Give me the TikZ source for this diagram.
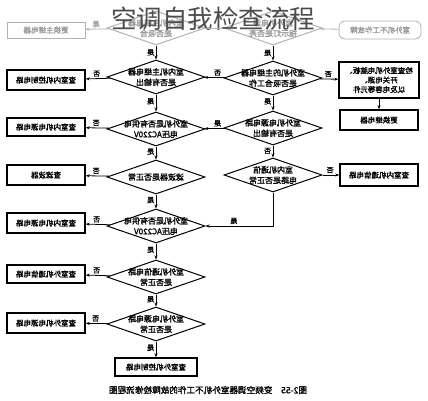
\documentclass[tikz,border=0pt]{standalone}
\usepackage{fontspec}
\usepackage{graphicx}
\usetikzlibrary{shapes.geometric,arrows.meta}
\newfontfamily\cjk{Noto Sans CJK SC}
\newfontfamily\cjkb[FakeBold=1.4]{Noto Sans CJK SC}
\newcommand{\rf}[1]{\reflectbox{#1}}

\tikzset{
  chk/.style={diamond, draw, line width=1pt, minimum width=98pt, minimum height=34pt,
    inner xsep=-16pt, inner ysep=-10pt, align=center, font=\cjkb\fontsize{8}{10.5}\selectfont},
  act/.style={rectangle, draw, line width=1.4pt, minimum width=78pt, minimum height=20pt,
    inner sep=1pt, align=center, font=\cjkb\fontsize{7.5}{9.5}\selectfont},
  faded/.style={draw=black!30, text=black!40},
  lbl/.style={font=\cjkb\fontsize{7}{8}\selectfont, inner sep=1.5pt},
  flow/.style={-{Stealth[length=4pt,width=3pt]}, line width=0.8pt}
}

\begin{document}
\begin{tikzpicture}[x=1pt, y=-1pt]
    \useasboundingbox[fill=white] (0,0) rectangle (428,400);
    % top row (faded)
    \node[act, faded, rounded corners=6pt, line width=0.8pt, minimum width=82pt, minimum height=18pt] (start) at (380,30) {\rf{室外机不工作故障}};
    \node[chk, faded] (d1) at (273,28) {\rf{室外机电源}\\\rf{指示灯是否亮}};
    \node[chk, faded] (d0) at (156,28) {\rf{室内机主继电器}\\\rf{是否吸合}};
    \node[act, faded, line width=1pt, minimum height=16pt] (b0) at (46,30) {\rf{更换主继电器}};
    % checks
    \node[chk] (d3) at (156,77) {\rf{室内机主继电器}\\\rf{是否有输出}};
    \node[chk] (d2) at (273,78) {\rf{室外机的主继电器}\\\rf{是否吸合工作}};
    \node[chk] (d4) at (273,128) {\rf{室外机电源电路}\\\rf{是否有输出}};
    \node[chk] (d5) at (156,129) {\rf{室外机是否有供电}\\\rf{电压AC220V}};
    \node[chk] (d6) at (273,175) {\rf{室内机通信}\\\rf{电路是否正常}};
    \node[chk] (d8) at (156,177) {\rf{滤波器是否正常}};
    \node[chk] (d7) at (156,226) {\rf{室外机是否有供电}\\\rf{电压AC220V}};
    \node[chk] (d9) at (156,277) {\rf{室外机通信电路}\\\rf{是否正常}};
    \node[chk] (d10) at (156,324) {\rf{室外机电源电路}\\\rf{是否正常}};
    % actions
    \node[act, minimum width=80pt, minimum height=36pt] (br1) at (379,80) {\rf{检查室外机电脑板、}\\\rf{开关电源、}\\\rf{以及电容等元件}};
    \node[act] (br2) at (379,120) {\rf{更换继电器}};
    \node[act, minimum height=22pt] (br3) at (379,175) {\rf{查室内机通信电路}};
    \node[act] (b1) at (46,80) {\rf{查室内机控制电路}};
    \node[act, minimum height=18pt] (b2) at (46,127) {\rf{查室内机电源电路}};
    \node[act] (b3) at (46,175) {\rf{查滤波器}};
    \node[act] (b4) at (46,223) {\rf{查室内机电源电路}};
    \node[act, minimum height=18pt] (b5) at (46,274) {\rf{查室外机通信电路}};
    \node[act] (b6) at (46,323) {\rf{查室外机电源电路}};
    \node[act, minimum width=82pt, minimum height=18pt] (bend) at (156,367) {\rf{查室外机控制电路}};
    % texts
    \node[font=\cjk\fontsize{25.5}{28}\selectfont, text=black!70, inner sep=0pt] (title) at (213,19) {空调自我检查流程};
    \node[font=\cjkb\fontsize{8.6}{10}\selectfont, inner sep=0pt] (caption) at (208,390) {\rf{图2-55\quad 变频空调器室外机不工作的故障检修流程图}};
    % faded connectors
    \draw[flow, black!30] (start) -- (d1);
    \draw[flow, black!30] (d1) -- (d0);
    \draw[flow, black!30] (d0) -- node[lbl, above, pos=0.55, text=black!40] {\rf{是}} (b0);
    % connectors
    \draw[flow] (d0) -- node[lbl, left, pos=0.5] {\rf{是}} (d3);
    \draw[flow] (d1) -- node[lbl, left, pos=0.5] {\rf{是}} (d2);
    \draw[flow] (d3) -- node[lbl, above, pos=0.55] {\rf{否}} (b1);
    \draw[flow] (d2) -- node[lbl, above, pos=0.35] {\rf{否}} (d3);
    \draw[flow] (d2) -- node[lbl, above, pos=0.45] {\rf{否}} (br1);
    \draw[flow] (br1) -- (br2);
    \draw[flow] (d3) -- node[lbl, left, pos=0.4] {\rf{是}} (d5);
    \draw[flow] (d2) -- node[lbl, left, pos=0.4] {\rf{是}} (d4);
    \draw[flow] (d4) -- node[lbl, above, pos=0.35] {\rf{是}} (d5);
    \draw[flow] (d4) -- node[lbl, left, pos=0.45] {\rf{否}} (d6);
    \draw[flow] (d6) -- node[lbl, above, pos=0.45] {\rf{否}} (br3);
    \draw[flow] (d6) |- node[lbl, above, pos=0.79] {\rf{是}} (d7);
    \draw[flow] (d5) -- node[lbl, above, pos=0.55] {\rf{否}} (b2);
    \draw[flow] (d5) -- node[lbl, left, pos=0.4] {\rf{是}} (d8);
    \draw[flow] (d8) -- node[lbl, above, pos=0.55] {\rf{否}} (b3);
    \draw[flow] (d8) -- node[lbl, left, pos=0.4] {\rf{是}} (d7);
    \draw[flow] (d7) -- node[lbl, above, pos=0.55] {\rf{否}} (b4);
    \draw[flow] (d7) -- node[lbl, left, pos=0.4] {\rf{是}} (d9);
    \draw[flow] (d9) -- node[lbl, above, pos=0.55] {\rf{否}} (b5);
    \draw[flow] (d9) -- node[lbl, left, pos=0.4] {\rf{是}} (d10);
    \draw[flow] (d10) -- node[lbl, above, pos=0.55] {\rf{否}} (b6);
    \draw[flow] (d10) -- node[lbl, left, pos=0.4] {\rf{是}} (bend);
\end{tikzpicture}
\end{document}
